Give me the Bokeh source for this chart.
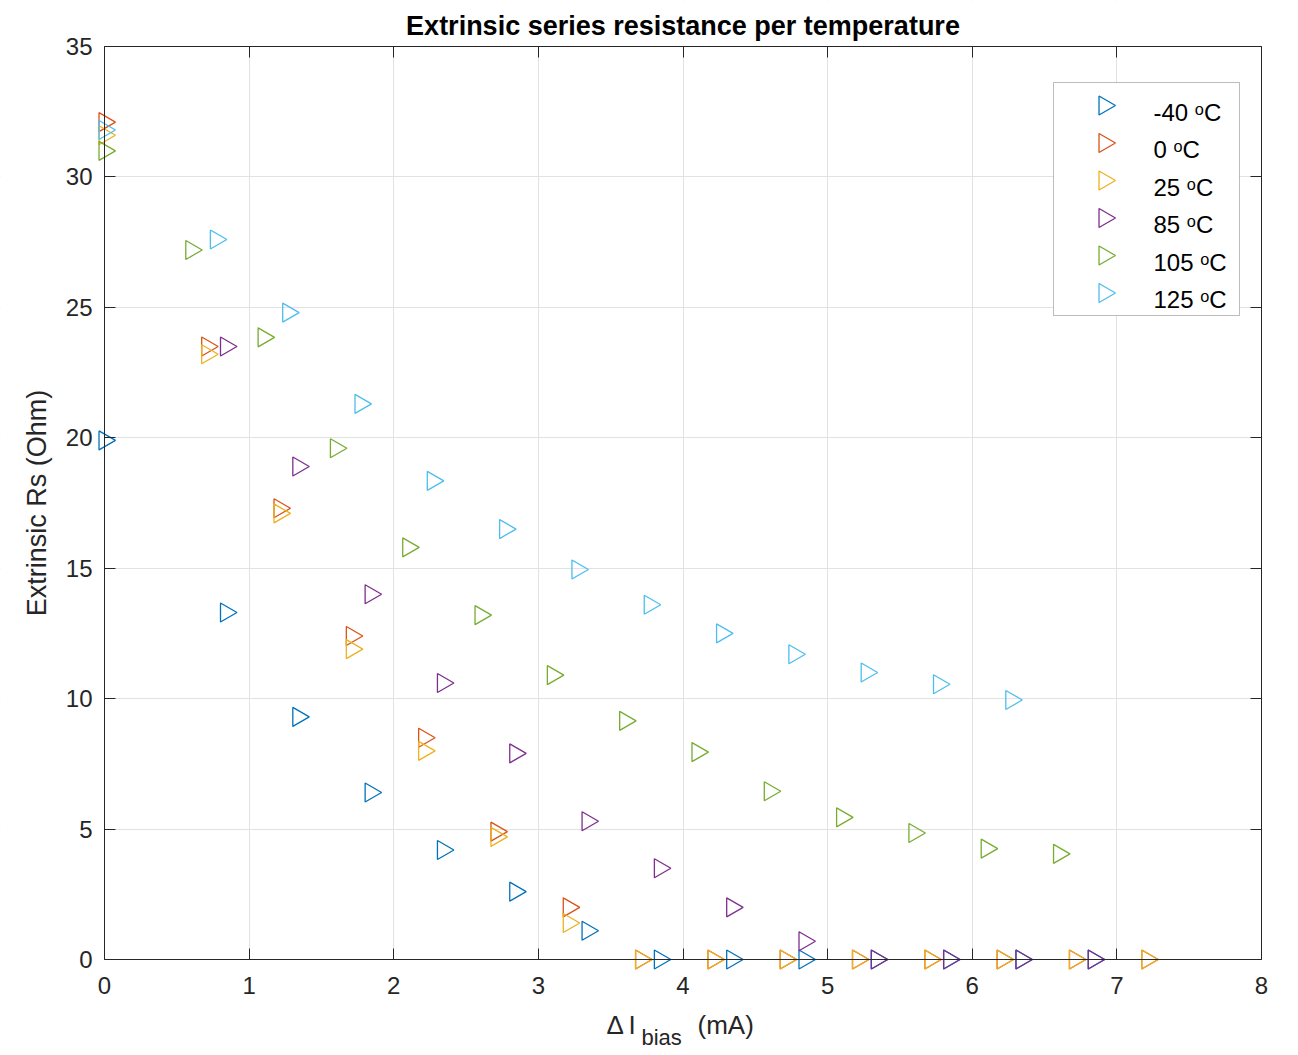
import math
from bokeh.plotting import figure
from bokeh.models import LinearAxis, Label, FixedTicker, BoxAnnotation, Range1d, Grid
from bokeh.embed import file_html
from bokeh.resources import INLINE

# ---------------- data ----------------
series_names = ["-40 ᵒC", "0 ᵒC", "25 ᵒC", "85 ᵒC", "105 ᵒC", "125 ᵒC"]
colors = ["#0072BD", "#D95319", "#EDB120", "#7E2F8E", "#77AC30", "#4DBEEE"]

x_m40 = [0, 0.84, 1.34, 1.84, 2.34, 2.84, 3.34, 3.84, 4.34, 4.84, 5.34, 5.84, 6.34, 6.84]
y_m40 = [19.9, 13.3, 9.3, 6.4, 4.2, 2.6, 1.1, 0, 0, 0, 0, 0, 0, 0]

x_0 = [0, 0.71, 1.21, 1.71, 2.21, 2.71, 3.21, 3.71, 4.21, 4.71, 5.21, 5.71, 6.21, 6.71, 7.21]
y_0 = [32.1, 23.5, 17.3, 12.4, 8.5, 4.9, 2.0, 0, 0, 0, 0, 0, 0, 0, 0]

x_25 = [0, 0.71, 1.21, 1.71, 2.21, 2.71, 3.21, 3.71, 4.21, 4.71, 5.21, 5.71, 6.21, 6.71, 7.21]
y_25 = [31.6, 23.2, 17.1, 11.9, 8.0, 4.7, 1.4, 0, 0, 0, 0, 0, 0, 0, 0]

x_85 = [0.84, 1.34, 1.84, 2.34, 2.84, 3.34, 3.84, 4.34, 4.84, 5.34, 5.84, 6.34, 6.84]
y_85 = [23.5, 18.9, 14.0, 10.6, 7.9, 5.3, 3.5, 2.0, 0.7, 0, 0, 0, 0]

x_105 = [0, 0.6, 1.1, 1.6, 2.1, 2.6, 3.1, 3.6, 4.1, 4.6, 5.1, 5.6, 6.1, 6.6]
y_105 = [31.0, 27.2, 23.85, 19.6, 15.8, 13.2, 10.9, 9.15, 7.95, 6.45, 5.45, 4.85, 4.25, 4.05]

x_125 = [0, 0.77, 1.27, 1.77, 2.27, 2.77, 3.27, 3.77, 4.27, 4.77, 5.27, 5.77, 6.27]
y_125 = [31.8, 27.6, 24.8, 21.3, 18.35, 16.5, 14.95, 13.6, 12.5, 11.7, 11.0, 10.55, 9.95]

xs = [x_m40, x_0, x_25, x_85, x_105, x_125]
ys = [y_m40, y_0, y_25, y_85, y_105, y_125]

x_ticks = [0, 1, 2, 3, 4, 5, 6, 7, 8]
y_ticks = [0, 5, 10, 15, 20, 25, 30, 35]

title_text = "Extrinsic series resistance per temperature"
ylabel_text = "Extrinsic Rs (Ohm)"

# ---------------- layout (pixels of the 1298x1055 canvas) ----------------
W, H = 1298, 1055
FONT = "Liberation Sans"
AX = "#262626"
X0, X1, Y0, Y1 = 0, 8, 0, 35
BOX_L, BOX_R, BOX_T, BOX_B = 104, 1261, 46, 959      # axes box
SX = (BOX_R - BOX_L) / (X1 - X0)
SY = (BOX_B - BOX_T) / (Y1 - Y0)


def dx(px):
    return X0 + (px - BOX_L) / SX


def dy(py):
    return Y0 + (BOX_B - py) / SY


# the frame covers the whole canvas so that nothing (edge markers, labels) is clipped
p = figure(frame_width=W, frame_height=H,
           x_range=Range1d(dx(0), dx(W)), y_range=Range1d(dy(H), dy(0)),
           output_backend="svg", toolbar_location=None,
           x_axis_location=None, y_axis_location=None,
           min_border_left=0, min_border_right=0, min_border_top=0, min_border_bottom=0)
p.background_fill_color = "white"
p.border_fill_color = "white"
p.outline_line_color = None


def make_axis(ticks, bounds, fixed, labels=True):
    a = LinearAxis(ticker=FixedTicker(ticks=ticks), bounds=bounds, fixed_location=fixed)
    a.axis_line_color = AX
    a.axis_line_width = 1
    a.major_tick_line_color = AX
    a.major_tick_in = 11
    a.major_tick_out = 0
    a.minor_tick_line_color = None
    if labels:
        a.major_label_text_font = FONT
        a.major_label_text_font_size = "24px"
        a.major_label_text_color = AX
    else:
        a.major_label_text_font_size = "1px"
        a.major_label_text_color = None
        a.major_label_standoff = 0
    return a


# grid, then white masks so grid lines stop at the axes box
p.add_layout(Grid(dimension=0, ticker=FixedTicker(ticks=x_ticks), grid_line_color="#e2e2e2"))
p.add_layout(Grid(dimension=1, ticker=FixedTicker(ticks=y_ticks), grid_line_color="#e2e2e2"))
for kw in (dict(left=dx(0), right=X0, bottom=dy(H), top=dy(0)),
           dict(left=X1, right=dx(W), bottom=dy(H), top=dy(0)),
           dict(left=dx(0), right=dx(W), bottom=dy(H), top=Y0),
           dict(left=dx(0), right=dx(W), bottom=Y1, top=dy(0))):
    p.add_layout(BoxAnnotation(fill_color="white", fill_alpha=1, line_color=None,
                               level="underlay", **kw))

xaxis = make_axis(x_ticks, (X0, X1), Y0)
xaxis.major_label_standoff = 17
p.add_layout(xaxis, "below")

yaxis = make_axis(y_ticks, (Y0, Y1), X0)
yaxis.major_label_standoff = 12
yaxis.axis_label = ylabel_text
yaxis.axis_label_text_font = FONT
yaxis.axis_label_text_font_size = "27px"
yaxis.axis_label_text_font_style = "normal"
yaxis.axis_label_text_color = AX
yaxis.axis_label_standoff = 11
p.add_layout(yaxis, "left")

p.add_layout(make_axis(x_ticks, (X0, X1), Y1, labels=False), "above")
p.add_layout(make_axis(y_ticks, (Y0, Y1), X1, labels=False), "right")

# ---------------- data markers ----------------
for c, xv, yv in zip(colors, xs, ys):
    p.scatter(xv, yv, marker="triangle", size=19, angle=-math.pi / 2,
              line_color=c, fill_color=None, line_width=1.3)

# ---------------- title ----------------
p.add_layout(Label(x=dx(682.5), y=dy(25.5), text=title_text, text_font=FONT,
                   text_font_size="27px", text_font_style="bold", text_color="black",
                   text_align="center", text_baseline="middle"))

# ---------------- legend (box, keys, labels) ----------------
LEG_L, LEG_R, LEG_T, LEG_B = 1053, 1239, 82, 315
KEY_Y0, TXT_Y0, ROW_STEP = 105, 111.5, 37.5
KEY_X, TXT_X = 1104, 1153

p.add_layout(BoxAnnotation(left=dx(LEG_L), right=dx(LEG_R), top=dy(LEG_T), bottom=dy(LEG_B),
                           fill_color="white", fill_alpha=1, line_color=AX, line_width=1,
                           level="underlay"))
for i, (name, c) in enumerate(zip(series_names, colors)):
    p.scatter([dx(KEY_X)], [dy(KEY_Y0 + i * ROW_STEP)], marker="triangle", size=19,
              angle=-math.pi / 2, line_color=c, fill_color=None, line_width=1.3)
    p.add_layout(Label(x=dx(TXT_X), y=dy(TXT_Y0 + i * ROW_STEP), text=name,
                       text_font=FONT, text_font_size="24px", text_color="black",
                       text_baseline="middle", text_align="left"))

# ---------------- x-axis label:  Δ I_bias (mA) ----------------
lab_kw = dict(text_font=FONT, text_color=AX, text_baseline="middle", text_align="left")
MAIN_Y, SUB_Y = 1024.5, 1037
p.add_layout(Label(x=dx(606), y=dy(MAIN_Y), text="Δ", text_font_size="26px", **lab_kw))
p.add_layout(Label(x=dx(628), y=dy(MAIN_Y), text="I", text_font_size="26px", **lab_kw))
p.add_layout(Label(x=dx(641), y=dy(SUB_Y), text="bias", text_font_size="22px", **lab_kw))
p.add_layout(Label(x=dx(697), y=dy(MAIN_Y), text="(mA)", text_font_size="26px", **lab_kw))

open("out.html", "w").write(file_html(p, INLINE))
